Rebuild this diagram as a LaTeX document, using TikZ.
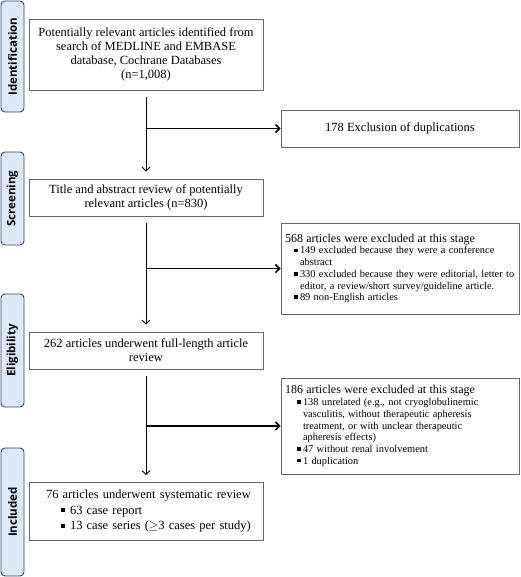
\documentclass[tikz,border=0pt]{standalone}
\usepackage{fontspec}
\setmainfont{Liberation Serif}
\newfontfamily\stagefont{Open Sans}
\usetikzlibrary{arrows.meta, positioning}
\definecolor{stageblue}{RGB}{221,233,247}
\definecolor{stageline}{RGB}{62,74,92}
\definecolor{boxgray}{RGB}{105,105,105}
\newcommand{\sqbul}[2]{\par\hangindent=#2\hangafter=1\noindent\hspace*{#1}\makebox[\dimexpr#2-#1\relax][l]{\rule[0.17em]{0.34em}{0.34em}}}
\newcommand{\hdrfont}{\fontsize{12}{14.5}\selectfont}
\newcommand{\itmfont}{\fontsize{10.4}{11.7}\selectfont}
\tikzset{
  stage/.style={draw=stageline, line width=0.9pt, fill=stageblue, rounded corners=4pt,
    rotate=90, minimum height=23pt, inner sep=0pt, font=\stagefont\bfseries\fontsize{11.5}{13}\selectfont},
  mainbox/.style={draw=boxgray, line width=0.8pt, minimum width=234pt, inner sep=0pt,
    align=center, font=\fontsize{12.5}{14}\selectfont},
  exclbox/.style={draw=boxgray, line width=0.8pt, text width=230pt, inner xsep=4pt,
    inner ysep=0pt, align=left},
  flow/.style={line width=0.8pt, -{Straight Barb[length=4pt,width=8pt]}, shorten <=7pt, shorten >=7pt},
  branch/.style={line width=1.6pt, -{Straight Barb[length=4pt,width=8pt]}}
}
\begin{document}
\begin{tikzpicture}[x=1pt,y=-1pt]
\useasboundingbox (0,0) rectangle (520,577);

\node[stage, minimum width=111pt] (idlab) at (12.5,56.5) {Identification};
\node[stage, minimum width=93pt] (sclab) at (12.5,198.5) {Screening};
\node[stage, minimum width=113pt] (ellab) at (12.5,350.5) {Eligibility};
\node[stage, minimum width=128pt] (inlab) at (12.5,512) {Included};

\node[mainbox, minimum height=71pt] (ident) at (146,54.5)
  {Potentially relevant articles identified from\\ search of MEDLINE and EMBASE\\
   database, Cochrane Databases\\ (n=1,008)};
\node[mainbox, minimum height=37pt] (screen) at (146,197.5)
  {Title and abstract review of potentially\\ relevant articles (n=830)};
\node[mainbox, minimum height=37pt] (elig) at (146,350.5)
  {262 articles underwent full-length article\\ review};
\node[mainbox, minimum height=58pt, text width=217pt, inner xsep=8.5pt, align=left,
      font=\fontsize{12.5}{15.5}\selectfont] (incl) at (146,511.5)
  {\leftskip=8.5pt 76 articles underwent systematic review
   \sqbul{15pt}{24pt}63 case report
   \sqbul{15pt}{24pt}13 case series ($\geq$3 cases per study)\par};

\node[mainbox, minimum width=238pt, minimum height=37pt] (dupl) at (400,128.5)
  {178 Exclusion of duplications};
\node[exclbox, minimum height=91pt] (excla) at (400,268.5)
  {{\hdrfont 568 articles were excluded at this stage\par}
   {\itmfont
   \sqbul{9pt}{15pt}149 excluded because they were a conference\newline abstract
   \sqbul{9pt}{15pt}330 excluded because they were editorial, letter to\newline editor, a review/short survey/guideline article.
   \sqbul{9pt}{15pt}89 non-English articles\par}};
\node[exclbox, minimum height=96pt] (exclb) at (400,426)
  {{\hdrfont 186 articles were excluded at this stage\par}
   {\itmfont
   \sqbul{12pt}{18pt}138 unrelated (e.g., not cryoglobulinemic\newline vasculitis, without therapeutic apheresis\newline
   treatment, or with unclear therapeutic\newline apheresis effects)
   \sqbul{12pt}{18pt}47 without renal involvement
   \sqbul{12pt}{18pt}1 duplication\par}};

\draw[flow] (ident.south) -- (screen.north);
\draw[flow] (screen.south) -- (elig.north);
\draw[flow] (elig.south) -- (incl.north);

\coordinate (dupfork) at (ident.south |- dupl.west);
\coordinate (exafork) at (screen.south |- excla.west);
\coordinate (exbfork) at (elig.south |- exclb.west);
\draw[branch] (dupfork) -- (dupl.west);
\draw[branch] (exafork) -- (excla.west);
\draw[branch] (exbfork) -- (exclb.west);
\end{tikzpicture}
\end{document}
